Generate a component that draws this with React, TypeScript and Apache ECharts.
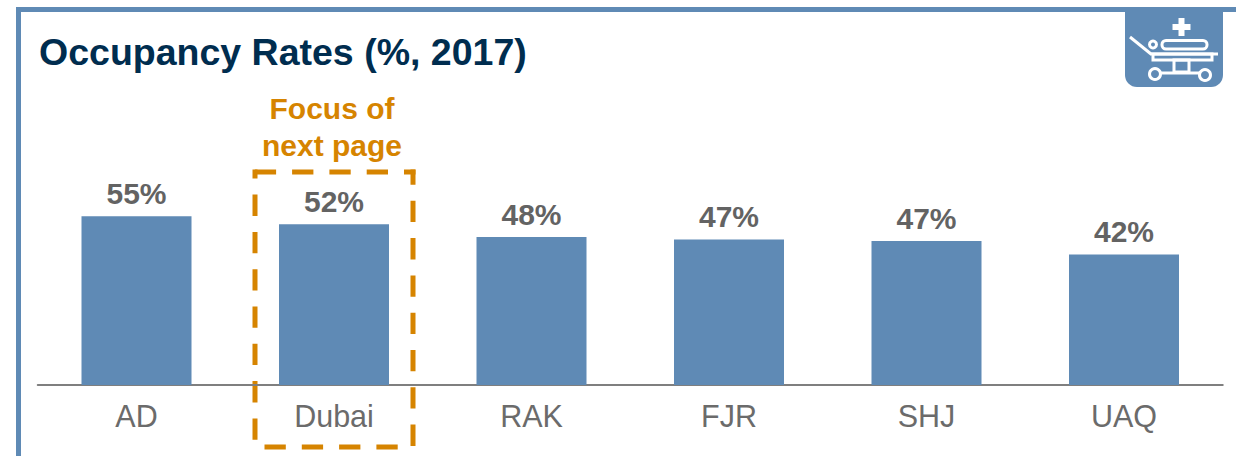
import React, { useEffect, useRef } from "react";
import * as echarts from "echarts";

const categories = ["AD", "Dubai", "RAK", "FJR", "SHJ", "UAQ"];
const occupancy = [55, 52.4, 48.2, 47.4, 46.9, 42.49];
const titleText = "Occupancy Rates (%, 2017)";
const focusNote = "Focus of\nnext page";

const BLUE = "#5f8ab5";
const GREY = "#636363";
const ORANGE = "#d68400";
const FONT = '"Liberation Sans", Arial, sans-serif';

const iconStroke = { stroke: "#fff", lineWidth: 3, fill: "none" };
const iconGraphics: any[] = [
  { type: "rect", shape: { x: 1178.5, y: 18, width: 6, height: 18 }, style: { fill: "#fff" } },
  { type: "rect", shape: { x: 1172.5, y: 24, width: 18, height: 6 }, style: { fill: "#fff" } },
  { type: "line", shape: { x1: 1130, y1: 37, x2: 1151, y2: 54 }, style: iconStroke },
  { type: "line", shape: { x1: 1150, y1: 54, x2: 1218, y2: 54 }, style: iconStroke },
  { type: "rect", shape: { x: 1153, y: 54, width: 59, height: 6 }, style: iconStroke },
  { type: "rect", shape: { x: 1162, y: 40.5, width: 45, height: 8.5, r: 4 }, style: iconStroke },
  { type: "circle", shape: { cx: 1153, cy: 44.5, r: 3.5 }, style: iconStroke },
  { type: "rect", shape: { x: 1174, y: 60, width: 15, height: 12 }, style: iconStroke },
  { type: "line", shape: { x1: 1160, y1: 73, x2: 1200, y2: 73 }, style: iconStroke },
  { type: "circle", shape: { cx: 1155, cy: 74, r: 5.5 }, style: iconStroke },
  { type: "circle", shape: { cx: 1205, cy: 75, r: 5.5 }, style: iconStroke },
];

const dashSide = (x1: number, y1: number, x2: number, y2: number, offset: number) => ({
  type: "line",
  silent: true,
  shape: { x1, y1, x2, y2 },
  style: { stroke: ORANGE, lineWidth: 5, lineDash: [21.3, 16], lineDashOffset: offset },
});

export default function App() {
  const ref = useRef<HTMLDivElement>(null);

  useEffect(() => {
    const chart = echarts.init(ref.current!, undefined, { renderer: "svg" });
    chart.setOption({
      animation: false,
      backgroundColor: "#fff",
      title: {
        text: titleText,
        left: 34,
        top: 28,
        textStyle: { fontFamily: FONT, fontSize: 37.5, fontWeight: "bold", color: "#002d4f" },
      },
      grid: { left: 37.75, right: 13.25, top: 200.8, bottom: 71, containLabel: false },
      xAxis: {
        type: "category",
        data: categories,
        axisLine: { lineStyle: { color: "#7f7f7f", width: 2 } },
        axisTick: { show: false },
        axisLabel: { fontFamily: FONT, fontSize: 30.5, color: "#6b6b6b", margin: 15 },
      },
      yAxis: { type: "value", min: 0, max: 60, show: false, splitLine: { show: false } },
      series: [
        {
          type: "bar",
          data: occupancy,
          barWidth: 110,
          itemStyle: { color: BLUE },
          label: {
            show: true,
            position: "top",
            distance: 8,
            formatter: (p: any) => `${Math.round(p.value)}%`,
            fontFamily: FONT,
            fontSize: 30,
            fontWeight: "bold",
            color: GREY,
          },
        },
      ],
      graphic: [
        { type: "rect", silent: true, shape: { x: 16, y: 7, width: 1220, height: 5 }, style: { fill: BLUE } },
        { type: "rect", silent: true, shape: { x: 16, y: 7, width: 5, height: 449 }, style: { fill: BLUE } },
        { type: "rect", silent: true, shape: { x: 1125, y: 10, width: 98, height: 77, r: [0, 0, 12, 12] }, style: { fill: BLUE } },
        ...iconGraphics.map((g) => ({ ...g, silent: true })),
        {
          type: "text",
          silent: true,
          x: 332,
          y: 127,
          style: {
            text: focusNote,
            fontFamily: FONT,
            fontSize: 30,
            fontWeight: "bold",
            fill: ORANGE,
            align: "center",
            verticalAlign: "middle",
            lineHeight: 37,
          },
        },
        dashSide(252.5, 172, 415.5, 172, 35.1),
        dashSide(413, 169.5, 413, 447, 6.1),
        dashSide(413, 447, 255, 447, 22.3),
        dashSide(255, 447, 255, 169.5, 30.3),
      ],
    });
    return () => chart.dispose();
  }, []);

  return <div ref={ref} style={{ position: "absolute", left: 0, top: 0, width: 1236, height: 456 }} />;
}
